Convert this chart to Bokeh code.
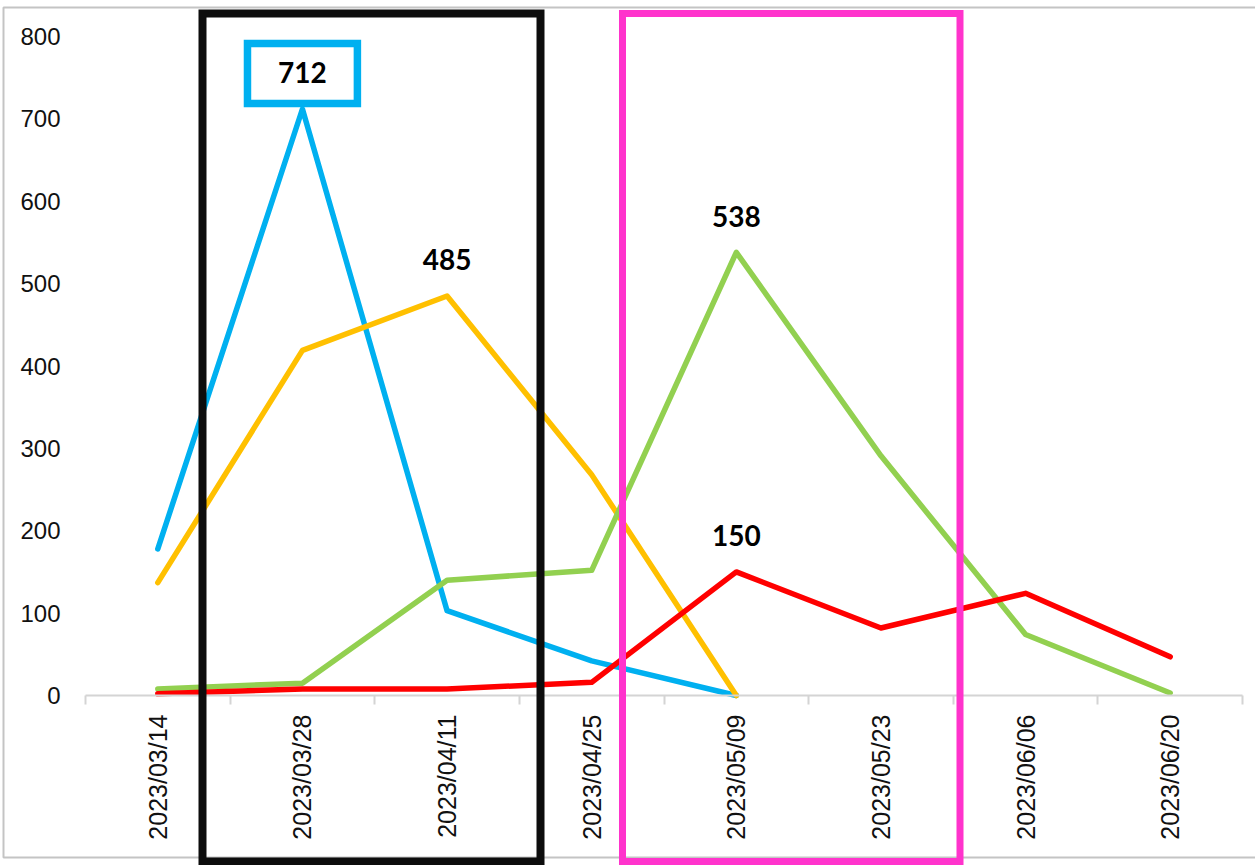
import math
from bokeh.plotting import figure
from bokeh.models import (Range1d, FixedTicker, LinearAxis, BoxAnnotation, Label)
from bokeh.embed import file_html
from bokeh.resources import INLINE

# ---- data -------------------------------------------------------------
dates = ["2023/03/14", "2023/03/28", "2023/04/11", "2023/04/25",
         "2023/05/09", "2023/05/23", "2023/06/06", "2023/06/20"]

blue_vals = [178, 712, 103, 42, 0]
orange_vals = [137, 419, 485, 268, 0]
green_vals = [8, 15, 140, 152, 538, 291, 74, 3]
red_vals = [2, 8, 8, 16, 150, 82, 124, 47]

y_ticks = [0, 100, 200, 300, 400, 500, 600, 700, 800]

# (series values, index of the point to label)
callouts = [(blue_vals, 1), (orange_vals, 2), (green_vals, 4), (red_vals, 4)]

BLUE, ORANGE, GREEN, RED = "#00B0F0", "#FFC000", "#92D050", "#FF0000"

# ---- canvas geometry --------------------------------------------------
# The frame covers the whole canvas; axes are pinned inside it so the
# highlight frames can run over the tick-label area.
W, H = 1255, 865
PLOT_L, PLOT_R, PLOT_B = 85, 1242, 695
PX_PER_UNIT = (695 - 36) / 800.0
CAT_START = -0.5
PX_PER_CAT = (PLOT_R - PLOT_L) / len(dates)


def dx(px):
    return CAT_START + (px - PLOT_L) / PX_PER_CAT


def dy(py):
    return (PLOT_B - py) / PX_PER_UNIT


p = figure(width=W, height=H, output_backend="svg", toolbar_location=None,
           x_range=Range1d(dx(0), dx(W)), y_range=Range1d(dy(H), dy(0)),
           x_axis_type=None, y_axis_type=None, min_border=0)
p.background_fill_color = "white"
p.border_fill_color = "white"
p.outline_line_color = None

# y axis: labels only, gridlines every 100
yax = LinearAxis(ticker=FixedTicker(ticks=y_ticks), fixed_location=dx(PLOT_L))
yax.axis_line_color = None
yax.major_tick_line_color = None
yax.minor_tick_line_color = None
yax.major_tick_out = 0
yax.major_tick_in = 0
yax.major_label_standoff = 25
yax.major_label_text_font = "Liberation Sans"
yax.major_label_text_font_size = "24px"
yax.major_label_text_color = "#111111"
p.add_layout(yax, "left")

# x axis: one label per date, small tick marks between dates
xpos = list(range(len(dates)))
xax = LinearAxis(ticker=FixedTicker(ticks=xpos,
                                    minor_ticks=[i - 0.5 for i in range(len(dates) + 1)]),
                 fixed_location=0, bounds=(dx(PLOT_L), dx(PLOT_R)))
xax.major_label_overrides = {i: d for i, d in zip(xpos, dates)}
xax.axis_line_color = "#d4d4d4"
xax.axis_line_width = 2
xax.major_tick_line_color = None
xax.major_tick_out = 0
xax.major_tick_in = 0
xax.minor_tick_line_color = "#d4d4d4"
xax.minor_tick_line_width = 2
xax.minor_tick_out = 9
xax.minor_tick_in = 0
xax.major_label_orientation = math.pi / 2
xax.major_label_standoff = 10
xax.major_label_text_font = "Liberation Sans"
xax.major_label_text_font_size = "25px"
xax.major_label_text_color = "#111111"
p.add_layout(xax, "below")

p.ygrid.ticker = FixedTicker(ticks=y_ticks)
p.ygrid.bounds = (dx(PLOT_L), dx(PLOT_R))
p.ygrid.grid_line_color = "#dddddd"
p.ygrid.grid_line_width = 2

# thin outer chart border
p.add_layout(BoxAnnotation(left=dx(3), right=dx(1262), top=dy(7), bottom=dy(857),
                           fill_alpha=0, line_color="#c4c4c4", line_alpha=1,
                           line_width=2, level="underlay"))

# ---- series -----------------------------------------------------------
for vals, col in [(blue_vals, BLUE), (orange_vals, ORANGE),
                  (green_vals, GREEN), (red_vals, RED)]:
    p.line(xpos[:len(vals)], vals, line_color=col, line_width=5.5,
           line_join="round", line_cap="round")

# ---- value callouts ---------------------------------------------------
for vals, i in callouts:
    p.add_layout(Label(x=xpos[i], y=vals[i], text=str(vals[i]),
                       y_offset=36, text_align="center", text_baseline="middle",
                       text_font="Lato", text_font_style="bold",
                       text_font_size="28px", text_color="#000000"))

# boxed peak of the blue series
peak_i = 1
p.add_layout(BoxAnnotation(left=xpos[peak_i] - 0.38, right=xpos[peak_i] + 0.38,
                           bottom=blue_vals[peak_i] + 6.7,
                           top=blue_vals[peak_i] + 79.5,
                           fill_alpha=0, line_color=BLUE, line_alpha=1,
                           line_width=7.5, line_join="miter", level="overlay"))

# ---- highlight frames ---------------------------------------------------
p.add_layout(BoxAnnotation(left=dx(202), right=dx(540), top=dy(13), bottom=dy(861),
                           fill_alpha=0, line_color="#0d0d0d", line_alpha=1,
                           line_width=8, line_join="miter", level="overlay"))
p.add_layout(BoxAnnotation(left=dx(622), right=dx(959.5), top=dy(13), bottom=dy(861),
                           fill_alpha=0, line_color="#FF33CC", line_alpha=1,
                           line_width=7, line_join="miter", level="overlay"))

open("out.html", "w").write(file_html(p, INLINE))
